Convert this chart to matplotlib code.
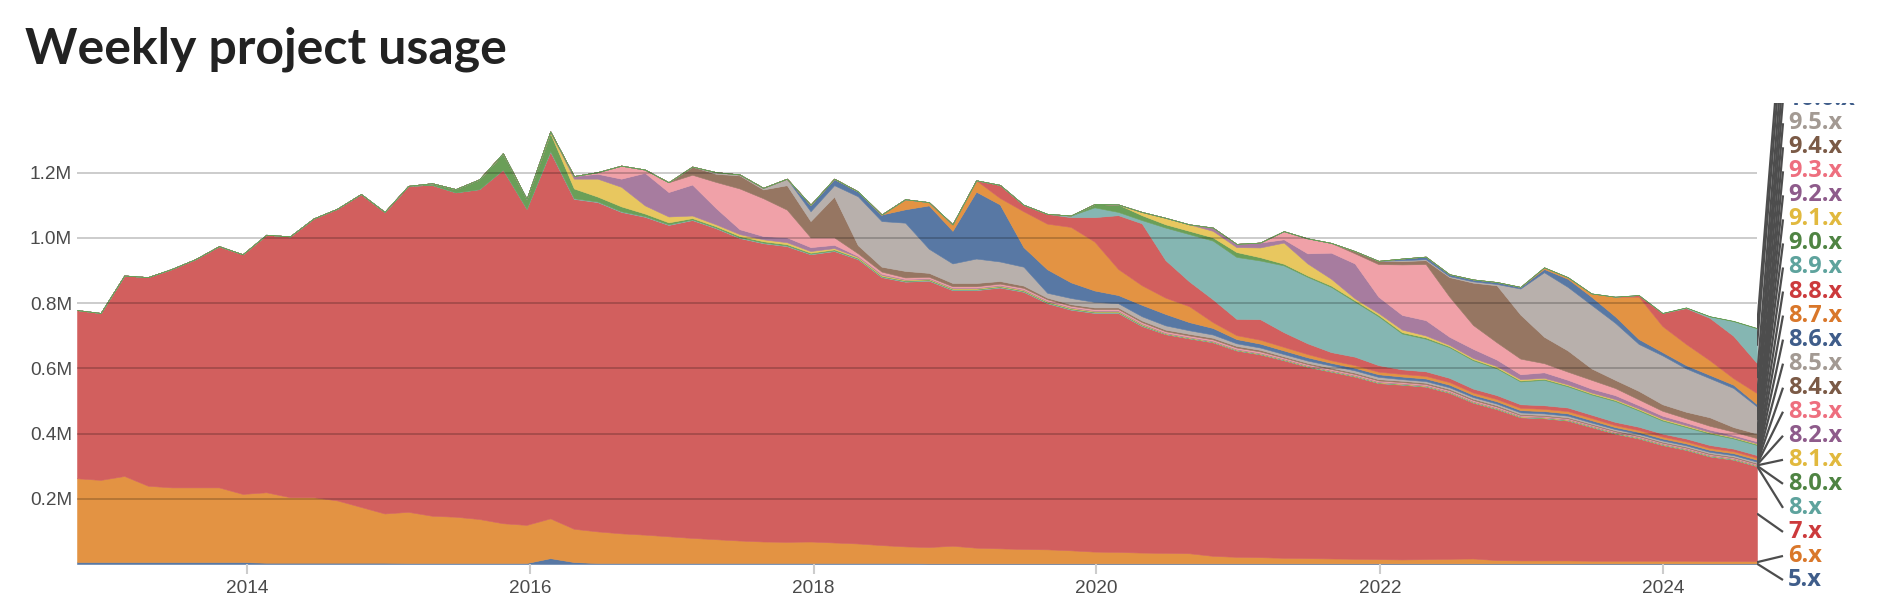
import numpy as np
import pandas as pd
import matplotlib
matplotlib.use('Agg')
import matplotlib.pyplot as plt
import matplotlib.dates as mdates

# sample dates, roughly every two months
dates = pd.date_range('2012-10-19', '2024-08-31', periods=72)

versions = ['5.x', '6.x', '7.x', '8.x', '8.0.x', '8.1.x', '8.2.x', '8.3.x', '8.4.x',
            '8.5.x', '8.6.x', '8.7.x', '8.8.x', '8.9.x', '9.0.x', '9.1.x', '9.2.x',
            '9.3.x', '9.4.x', '9.5.x', '10.0.x', '10.1.x', '10.2.x', '10.3.x', '11.0.x']

# weekly usage in millions
v5 = [0.006] * 8 + [0.004] * 6 + [0.003] * 6 + [0.018, 0.006] + [0.003] * 14 + [0.002] * 36
v6 = [0.257, 0.252, 0.264, 0.234, 0.229, 0.229, 0.229, 0.209, 0.216, 0.201, 0.201, 0.191,
      0.171, 0.151, 0.157, 0.145, 0.142, 0.135, 0.122, 0.117, 0.122, 0.102, 0.097, 0.091,
      0.087, 0.082, 0.077, 0.073, 0.069, 0.066, 0.065, 0.066, 0.063, 0.060, 0.055, 0.051,
      0.050, 0.054, 0.048, 0.046, 0.044, 0.043, 0.040, 0.036, 0.035, 0.033, 0.032, 0.031,
      0.023, 0.020, 0.019, 0.017, 0.016, 0.015, 0.014, 0.013, 0.012, 0.013, 0.014, 0.015,
      0.010, 0.009, 0.009, 0.009, 0.008, 0.008, 0.008, 0.008, 0.008, 0.007, 0.007, 0.007]
v7 = [0.516, 0.512, 0.615, 0.640, 0.670, 0.700, 0.740, 0.735, 0.790, 0.800, 0.855, 0.895,
      0.960, 0.925, 1.000, 1.015, 0.995, 1.012, 1.085, 0.970, 1.125, 1.012, 1.010, 0.986,
      0.975, 0.955, 0.975, 0.954, 0.928, 0.915, 0.907, 0.881, 0.894, 0.872, 0.822, 0.812,
      0.817, 0.784, 0.790, 0.800, 0.789, 0.755, 0.738, 0.732, 0.733, 0.695, 0.671, 0.659,
      0.655, 0.633, 0.622, 0.606, 0.587, 0.573, 0.559, 0.540, 0.536, 0.529, 0.509, 0.478,
      0.463, 0.439, 0.436, 0.429, 0.410, 0.390, 0.375, 0.355, 0.340, 0.321, 0.311, 0.291]
v8 = [0] * 20 + [0.002] * 26 + [0.001] * 26
v80 = [0] * 15 + [0.005, 0.01, 0.03, 0.05, 0.03, 0.055, 0.03, 0.015, 0.015, 0.008, 0.006,
                  0.004, 0.004, 0.004, 0.004, 0.004, 0.003, 0.003] + [0.002] * 13 + [0.001] * 26
v81 = [0] * 20 + [0.005, 0.03, 0.055, 0.06, 0.025, 0.018, 0.008, 0.006, 0.006, 0.006, 0.006,
                  0.005, 0.004, 0.003, 0.003] + [0.002] * 11 + [0.001] * 26
v82 = [0] * 21 + [0.008, 0.015, 0.025, 0.10, 0.075, 0.095, 0.05, 0.015, 0.01, 0.015, 0.012,
                  0.01, 0.003, 0.003] + [0.002] * 37
v83 = [0] * 22 + [0.005, 0.04, 0.01, 0.03, 0.03, 0.08, 0.125, 0.116, 0.085, 0.03, 0.023,
                  0.008, 0.007, 0.005] + [0.004] * 15 + [0.003] * 10 + [0.002] * 11
v84 = [0] * 26 + [0.025, 0.025, 0.04, 0.027, 0.075, 0.05, 0.125, 0.025, 0.015, 0.02, 0.012,
                  0.01, 0.01, 0.008, 0.007] + [0.005] * 10 + [0.004] * 10 + [0.003] * 11
v85 = [0] * 27 + [0.005, 0.003, 0.005, 0.02, 0.03, 0.035, 0.15, 0.14, 0.148, 0.074, 0.06,
                  0.075, 0.06, 0.058, 0.015, 0.019, 0.017, 0.013, 0.013, 0.013, 0.011, 0.01,
                  0.008] + [0.007] * 6 + [0.005] * 8 + [0.004] * 8
v86 = [0] * 31 + [0.02, 0.02, 0.015, 0.02, 0.041, 0.133, 0.10, 0.205, 0.175, 0.06, 0.072,
                  0.048, 0.035, 0.025, 0.035, 0.035, 0.025, 0.02, 0.013, 0.012, 0.011,
                  0.01] + [0.008] * 6 + [0.007] * 6 + [0.006] * 7
v87 = [0] * 35 + [0.031, 0.01, 0.02, 0.035, 0.02, 0.11, 0.14, 0.17, 0.15, 0.08, 0.06, 0.05,
                  0.049, 0.018, 0.012, 0.012, 0.011, 0.01] + [0.008] * 6 + [0.007] * 6 + [0.006] * 7
v88 = [0] * 39 + [0.04, 0.02, 0.03, 0.03, 0.075, 0.165, 0.19, 0.115, 0.076, 0.07, 0.05, 0.063,
                  0.045, 0.033, 0.025, 0.026, 0.02, 0.014, 0.014, 0.013, 0.012, 0.012, 0.011,
                  0.011, 0.011, 0.01, 0.01, 0.01, 0.009, 0.009, 0.009, 0.008, 0.008]
v89 = [0] * 42 + [0.005, 0.03, 0.01, 0.01, 0.10, 0.145, 0.18, 0.19, 0.18, 0.205, 0.204, 0.20,
                  0.169, 0.15, 0.11, 0.10, 0.094, 0.087, 0.082, 0.07, 0.078, 0.065, 0.062,
                  0.064, 0.05, 0.04, 0.035, 0.035, 0.031, 0.031]
v90 = [0] * 43 + [0.01, 0.023, 0.015, 0.01, 0.01, 0.01, 0.015, 0.01, 0.005, 0.004, 0.004,
                  0.004, 0.004, 0.004, 0.004] + [0.003] * 14
v91 = [0] * 45 + [0.01, 0.02, 0.02, 0.02, 0.015, 0.03, 0.065, 0.037, 0.021, 0.006, 0.006,
                  0.008, 0.006, 0.004, 0.004, 0.004, 0.004, 0.003, 0.003, 0.003, 0.003,
                  0.003, 0.003, 0.003, 0.002, 0.002, 0.002]
v92 = [0] * 48 + [0.01, 0.01, 0.015, 0.01, 0.031, 0.08, 0.107, 0.05, 0.045, 0.047, 0.025,
                  0.028, 0.02, 0.015, 0.017, 0.014, 0.012, 0.012, 0.01, 0.009, 0.008, 0.007,
                  0.006, 0.006]
v93 = [0] * 51 + [0.025, 0.046, 0.03, 0.031, 0.10, 0.155, 0.172, 0.123, 0.073, 0.053, 0.048,
                  0.028, 0.025, 0.027, 0.022, 0.018, 0.015, 0.013, 0.012, 0.01, 0.01]
v94 = [0] * 54 + [0.007, 0.01, 0.01, 0.012, 0.06, 0.13, 0.175, 0.135, 0.081, 0.065, 0.035,
                  0.025, 0.026, 0.02, 0.02, 0.026, 0.014, 0.014]
v95 = [0] * 56 + [0.003, 0.003, 0.003, 0.004, 0.004, 0.08, 0.198, 0.195, 0.195, 0.175, 0.144,
                  0.15, 0.133, 0.12, 0.12, 0.083]
v100 = [0] * 56 + [0.005, 0.008, 0.006, 0.006, 0.006, 0.005, 0.01, 0.025, 0.025, 0.02, 0.015,
                   0.01, 0.01, 0.01, 0.01, 0.007]
v101 = [0] * 62 + [0.005, 0.005, 0.01, 0.06, 0.13, 0.08, 0.065, 0.045, 0.02, 0.034]
v102 = [0] * 66 + [0.005, 0.04, 0.11, 0.13, 0.13, 0.092]
v103 = [0] * 68 + [0.002, 0.005, 0.045, 0.107]
v110 = [0] * 70 + [0.001, 0.001]

series = [v5, v6, v7, v8, v80, v81, v82, v83, v84, v85, v86, v87, v88, v89, v90, v91,
          v92, v93, v94, v95, v100, v101, v102, v103, v110]

fill_colors = ['#5878a4', '#e39343', '#d25f5e', '#85b6b2', '#6a9f58',
               '#e8c75f', '#a77c9f', '#f0a1a8', '#967662', '#b8b0ac']
text_colors = ['#3f5d8a', '#d9772a', '#cc3a3c', '#5ea39d', '#4f8443',
               '#e1b93e', '#8e5b8b', '#ee6f7f', '#7b5a46', '#a39a93']
colors = [fill_colors[i % 10] for i in range(len(series))]
tcolors = [text_colors[i % 10] for i in range(len(series))]

W, H = 1878, 614
fig = plt.figure(figsize=(W / 100, H / 100), dpi=100)
ax = fig.add_axes([77 / W, 50 / H, 1680 / W, 461 / H])

polys = ax.stackplot(dates, *series, colors=colors)
for p, c in zip(polys, colors):
    p.set_edgecolor(c)
    p.set_linewidth(0.4)

ytick_vals = [0.2, 0.4, 0.6, 0.8, 1.0, 1.2]
for v in ytick_vals:
    ax.axhline(v, color='black', alpha=0.2, lw=1.4, zorder=5)

ax.set_ylim(0, 461 / 326)
ax.set_xlim(dates[0], dates[-1])
ax.set_yticks(ytick_vals)
ax.set_yticklabels(['0.2M', '0.4M', '0.6M', '0.8M', '1.0M', '1.2M'])
ax.tick_params(axis='y', length=0, pad=3.6, labelsize=13.7, labelcolor='#4a4a4a')
for t in ax.get_yticklabels():
    t.set_family(['Liberation Sans', 'DejaVu Sans'])

ax.xaxis.set_major_locator(mdates.YearLocator(2))
ax.xaxis.set_major_formatter(mdates.DateFormatter('%Y'))
ax.tick_params(axis='x', length=7.2, width=1.5, color='#cccccc', pad=4,
               labelsize=13.7, labelcolor='#4a4a4a')
for t in ax.get_xticklabels():
    t.set_family(['Liberation Sans', 'DejaVu Sans'])
for s in ax.spines.values():
    s.set_visible(False)

# labels with leader lines on the right, clipped at the top like the plot
lax = fig.add_axes([1757 / W, 0, 121 / W, 511 / H])
lax.set_xlim(0, 121)
lax.set_ylim((564 - 614) / 326, 461 / 326)
lax.axis('off')

last = np.array([s[-1] for s in series])
mids = np.cumsum(last) - last / 2
for k, name in enumerate(versions):
    label_px = 580 - 24.04 * k
    ly = (564 - label_px) / 326
    line, = lax.plot([0, 26], [mids[k], ly], color='#4d4d4d', lw=1.6,
                     solid_capstyle='butt')
    line.set_clip_on(True)
    if label_px < 103 - 12:
        continue  # label sits above the visible area
    txt = lax.text(31, ly, name, color=tcolors[k], fontsize=17, fontweight='bold',
                   family=['Open Sans', 'DejaVu Sans'], va='center', ha='left')
    txt.set_clip_on(True)
    txt.set_clip_box(lax.bbox)

fig.text(25 / W, 1 - 63 / H, 'Weekly project usage', fontsize=36, fontweight='bold',
         family=['Lato', 'DejaVu Sans'], color='#222222', va='baseline')

fig.savefig('out.png', dpi=100)
